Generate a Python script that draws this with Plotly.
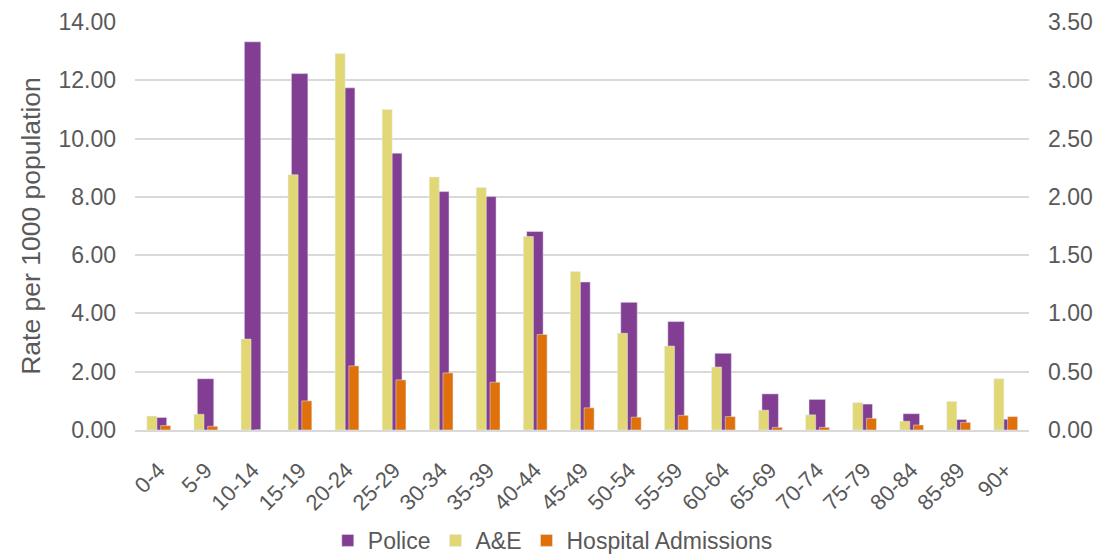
import plotly.graph_objects as go

categories = ["0-4", "5-9", "10-14", "15-19", "20-24", "25-29", "30-34", "35-39", "40-44",
              "45-49", "50-54", "55-59", "60-64", "65-69", "70-74", "75-79", "80-84", "85-89", "90+"]
police = [0.43, 1.76, 13.32, 12.23, 11.74, 9.50, 8.18, 8.01, 6.81, 5.08, 4.38, 3.72, 2.63,
          1.24, 1.05, 0.89, 0.56, 0.36, 0.37]
ae = [0.12, 0.135, 0.78, 2.19, 3.23, 2.75, 2.17, 2.08, 1.66, 1.36, 0.83, 0.72, 0.54,
      0.17, 0.13, 0.235, 0.075, 0.245, 0.44]
hospital = [0.038, 0.032, 0.0, 0.25, 0.55, 0.43, 0.49, 0.41, 0.82, 0.19, 0.11, 0.126, 0.115,
            0.023, 0.023, 0.10, 0.043, 0.066, 0.115]

left_ticks = [0, 2, 4, 6, 8, 10, 12, 14]
right_ticks = [0, 0.5, 1, 1.5, 2, 2.5, 3, 3.5]

fig = go.Figure()
fig.add_trace(go.Bar(x=categories, y=police, name="Police", marker_color="#823E92",
                     width=0.35, offset=-0.176, yaxis="y"))
fig.add_trace(go.Bar(x=categories, y=ae, name="A&E", marker_color="#E2D775",
                     width=0.213, offset=-0.247, yaxis="y2"))
fig.add_trace(go.Bar(x=categories, y=hospital, name="Hospital Admissions", marker_color="#E0700A",
                     width=0.213, offset=0.045, yaxis="y2"))

font_color = "#595959"
fig.update_layout(
    width=1099, height=556,
    margin=dict(l=135, r=70, t=22, b=126),
    plot_bgcolor="white", paper_bgcolor="white",
    barmode="overlay",
    font=dict(family="Liberation Sans, Arial, sans-serif", color=font_color, size=23),
    xaxis=dict(tickangle=-45, tickfont=dict(size=22), showgrid=False, automargin=False,
               showline=True, linecolor="#d9d9d9", linewidth=1.5, ticks="",
               ticklabelstandoff=17),
    yaxis=dict(range=[0, 14], tickvals=left_ticks, tickformat=".2f", automargin=False,
               gridcolor="#d9d9d9", gridwidth=1.5, zeroline=False, ticklabelstandoff=18,
               title=dict(text="Rate per 1000 population", font=dict(size=26.5), standoff=10)),
    yaxis2=dict(range=[0, 3.5], tickvals=right_ticks, tickformat=".2f", overlaying="y",
                side="right", showgrid=False, zeroline=False, automargin=False,
                ticklabelstandoff=18),
    legend=dict(orientation="h", xref="container", x=0.503, xanchor="center",
                yref="container", y=0.028, yanchor="middle",
                font=dict(size=23), traceorder="normal"),
)
fig.write_html("out.html")
